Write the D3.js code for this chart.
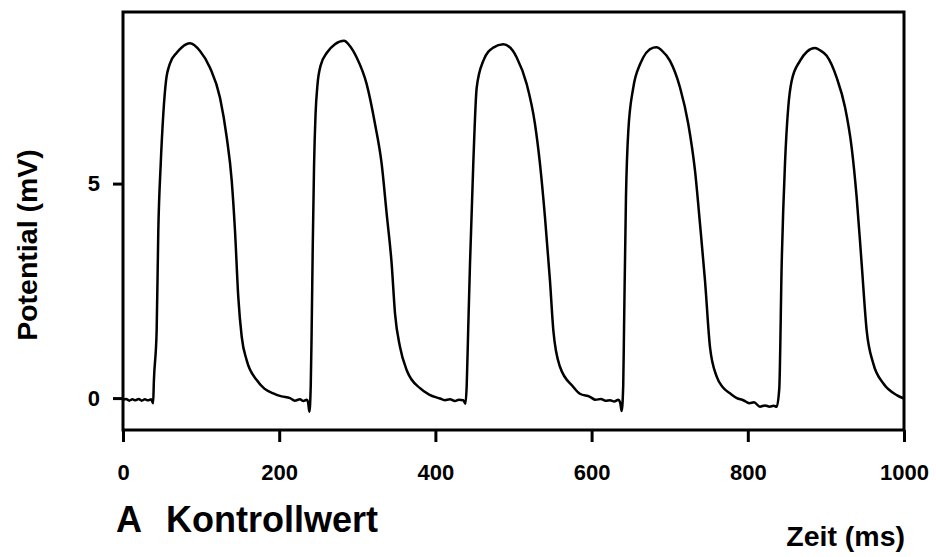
<!DOCTYPE html>
<html>
<head>
<meta charset="utf-8">
<script src="https://cdn.jsdelivr.net/npm/d3@7"></script>
<style>
  html, body { margin: 0; padding: 0; background: #fff; }
  svg { display: block; }
  text { font-family: "Liberation Sans", Arial, Helvetica, sans-serif; font-weight: bold; fill: #000; }
</style>
</head>
<body>
<svg id="chart" width="936" height="557"></svg>
<script>
// ---- data (time in ms, potential in mV) ----
const baselineStart = [[0,-0.04],[4,-0.02],[8,-0.06],[12,-0.03],[16,-0.05],[20,-0.02],[24,-0.06],[28,-0.03],[32,-0.05],[36,-0.03],[38.6,-0.12]];
const beat1 = [[39.5,0.38],[43.1,1.58],[45.2,3.9],[48.3,5.46],[51.6,6.62],[55.1,7.4],[60.2,7.8],[68.8,8.05],[75.5,8.18],[85.8,8.27],[98.6,8.09],[111.4,7.7],[124.2,7.0],[132.8,6.08],[139.2,5.07],[143.4,3.9],[147.6,2.36],[152,1.43],[158.4,0.88],[171.2,0.42],[181,0.22],[192.4,0.11],[203,0.04],[213.8,0.0],[220,-0.06],[226.6,-0.03],[231,-0.07],[235.2,-0.04],[237,-0.1],[238.6,-0.32]];
const beat2 = [[240.4,0.3],[241.5,1.5],[243,3.6],[244.6,5.4],[246.5,6.6],[249,7.3],[253,7.75],[261,8.05],[271.4,8.25],[283,8.33],[290,8.22],[299.2,7.94],[312,7.32],[322.7,6.39],[331.2,5.46],[337.6,4.3],[344,3.13],[348.3,1.97],[354.7,1.19],[363.3,0.65],[380.3,0.23],[392,0.08],[405.9,-0.01],[412,-0.05],[418.7,-0.03],[425,-0.07],[430,-0.04],[435.7,-0.05],[438.5,-0.13]];
const beat3 = [[440.1,0.3],[442,1.6],[444.3,3.13],[448.5,5.46],[452.9,7.24],[461.3,7.86],[474.1,8.17],[486.9,8.25],[499.4,8.09],[504.1,7.94],[516.9,7.32],[527.5,6.39],[533.9,5.46],[540.3,4.22],[546.7,2.74],[551,1.58],[559.5,0.73],[576.6,0.26],[585,0.1],[597.9,0.03],[605,-0.04],[612,-0.02],[618,-0.06],[623.6,-0.05],[629,-0.08],[634.2,-0.04],[636.5,-0.1],[638.5,-0.3]];
const beat4 = [[640.5,0.3],[641.5,1.58],[644,4.68],[647,6.23],[653.4,7.24],[662,7.78],[679,8.17],[683.3,8.18],[690,8.1],[700.4,7.86],[713.2,7.24],[723.8,6.39],[732.4,5.3],[738.8,4.06],[745.2,2.74],[751.6,1.19],[760.2,0.5],[768,0.25],[777.2,0.11],[786,0.0],[794.2,-0.05],[802,-0.12],[808,-0.1],[815.6,-0.2],[822,-0.17],[828,-0.2],[833,-0.18],[837,-0.2]];
const beat5 = [[840.3,0.22],[843.4,3.13],[847.6,5.46],[851.8,6.78],[856.2,7.4],[866.8,7.86],[876,8.08],[886,8.16],[893,8.1],[901,7.98],[913.8,7.47],[924.5,6.78],[933,5.84],[939.4,4.68],[945.8,3.13],[952.2,1.58],[960.6,0.81],[973.6,0.34],[990.7,0.07],[1000,-0.01]];

const xTicks = [0, 200, 400, 600, 800, 1000];
const yTicks = [0, 5];
const xDomain = [0, 1000];
const yDomain = [-0.744, 9.0];
const xTitle = "Zeit (ms)";
const yTitle = "Potential (mV)";
const panelTitle = ["A", "Kontrollwert"];

const trace = [].concat(baselineStart, beat1, beat2, beat3, beat4, beat5);

// ---- layout ----
const svg = d3.select("#chart");
const L = 123, R = 904, T = 12, B = 430;

const x = d3.scaleLinear().domain(xDomain).range([L, R]);
const y = d3.scaleLinear().domain(yDomain).range([B, T]);

// trace
const line = d3.line().x(d => x(d[0])).y(d => y(d[1])).curve(d3.curveMonotoneX);
svg.append("path")
  .datum(trace)
  .attr("d", line)
  .attr("fill", "none")
  .attr("stroke", "#000")
  .attr("stroke-width", 2.5)
  .attr("stroke-linejoin", "round");

// frame
svg.append("rect")
  .attr("x", L).attr("y", T)
  .attr("width", R - L).attr("height", B - T)
  .attr("fill", "none").attr("stroke", "#000").attr("stroke-width", 3);

// x axis
const gx = svg.append("g").attr("transform", `translate(0,${B})`)
  .call(d3.axisBottom(x).tickValues(xTicks).tickSize(12).tickPadding(22).tickFormat(d3.format("d")));
gx.select(".domain").remove();
gx.selectAll(".tick line").attr("stroke", "#000").attr("stroke-width", 3);
gx.selectAll(".tick text").style("font-size", "22px").style("font-family", "'Liberation Sans', Arial, sans-serif").style("font-weight", "bold");

// y axis
const gy = svg.append("g").attr("transform", `translate(${L},0)`)
  .call(d3.axisLeft(y).tickValues(yTicks).tickSize(10).tickPadding(13).tickFormat(d3.format("d")));
gy.select(".domain").remove();
gy.selectAll(".tick line").attr("stroke", "#000").attr("stroke-width", 3);
gy.selectAll(".tick text").style("font-size", "22px").style("font-family", "'Liberation Sans', Arial, sans-serif").style("font-weight", "bold");

// axis titles
svg.append("text")
  .attr("transform", "translate(37,245) rotate(-90)")
  .attr("text-anchor", "middle")
  .style("font-size", "28.5px")
  .text(yTitle);

svg.append("text")
  .attr("x", 905).attr("y", 546)
  .attr("text-anchor", "end")
  .style("font-size", "28.5px")
  .text(xTitle);

// panel label
svg.append("text")
  .attr("x", 116).attr("y", 532)
  .style("font-size", "36px")
  .text(panelTitle[0]);
svg.append("text")
  .attr("x", 166).attr("y", 532)
  .style("font-size", "36px")
  .text(panelTitle[1]);
</script>
</body>
</html>
